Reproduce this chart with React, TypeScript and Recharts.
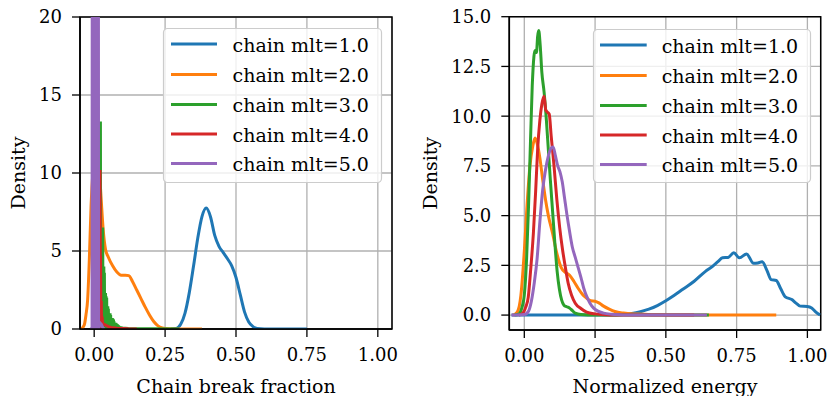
import React from 'react';
import { LineChart, Line, XAxis, YAxis, CartesianGrid, ReferenceArea, Legend } from 'recharts';

const SERIES_NAMES = ['chain mlt=1.0', 'chain mlt=2.0', 'chain mlt=3.0', 'chain mlt=4.0', 'chain mlt=5.0'];
const COLORS = ['#1f77b4', '#ff7f0e', '#2ca02c', '#d62728', '#9467bd'];

const X_TICKS = [0, 0.25, 0.5, 0.75, 1.0];
const LEFT_Y_TICKS = [0, 5, 10, 15, 20];
const RIGHT_Y_TICKS = [0, 2.5, 5, 7.5, 10, 12.5, 15];

// ---- Left panel: chain break fraction densities [x, density] ----
const CB_MLT1: [number, number][] = [
  [0.27, 0], [0.29, 0.04], [0.305, 0.3], [0.32, 1.0], [0.335, 2.3], [0.35, 4.0], [0.365, 5.8],
  [0.38, 7.2], [0.395, 7.75], [0.41, 7.2], [0.425, 6.0], [0.44, 5.3], [0.455, 4.9], [0.47, 4.5],
  [0.485, 4.05], [0.5, 3.3], [0.515, 2.2], [0.53, 1.1], [0.545, 0.45], [0.56, 0.15], [0.575, 0.03],
  [0.6, 0], [0.75, 0],
];
const CB_MLT2: [number, number][] = [
  [-0.045, 0], [-0.035, 0.25], [-0.029, 0.9], [-0.023, 1.9], [-0.017, 4.5], [-0.011, 7.9], [-0.004, 10.2],
  [0.005, 11.5], [0.015, 11.0], [0.024, 8.5], [0.032, 6.3], [0.04, 5.1], [0.05, 4.6], [0.065, 4.05],
  [0.08, 3.65], [0.095, 3.45], [0.11, 3.45], [0.122, 3.42], [0.135, 3.05], [0.15, 2.5], [0.165, 1.95],
  [0.18, 1.4], [0.195, 0.9], [0.21, 0.48], [0.225, 0.2], [0.24, 0.07], [0.26, 0.01], [0.28, 0], [0.38, 0],
];
const CB_MLT3: [number, number][] = [
  [0.015, 0], [0.016, 13.3], [0.017, 0], [0.018, 13.3], [0.019, 0], [0.02, 13.3], [0.021, 0], [0.022, 13.3],
  [0.023, 0], [0.024, 6.5], [0.025, 0], [0.026, 6.5], [0.027, 0], [0.028, 6.5], [0.029, 0], [0.03, 6.5],
  [0.031, 0], [0.032, 4.0], [0.033, 0], [0.034, 4.0], [0.035, 0], [0.036, 3.6], [0.037, 0], [0.038, 2.3],
  [0.039, 0], [0.04, 2.3], [0.041, 0], [0.042, 2.1], [0.043, 0], [0.044, 2.0], [0.045, 0], [0.046, 1.45],
  [0.047, 0], [0.048, 1.45], [0.049, 0], [0.05, 1.3], [0.051, 0], [0.052, 1.0], [0.053, 0], [0.054, 1.0],
  [0.055, 0], [0.056, 1.0], [0.057, 0], [0.058, 0.9], [0.059, 0], [0.06, 0.7], [0.061, 0], [0.062, 0.7],
  [0.063, 0], [0.064, 0.7], [0.065, 0], [0.066, 0.65], [0.067, 0], [0.068, 0.6], [0.069, 0], [0.07, 0.5],
  [0.071, 0], [0.072, 0.4], [0.073, 0], [0.074, 0.4], [0.075, 0], [0.076, 0.4], [0.077, 0], [0.078, 0.35],
  [0.079, 0], [0.08, 0.3], [0.081, 0], [0.082, 0.25], [0.083, 0], [0.084, 0.2], [0.085, 0], [0.087, 0.15],
  [0.09, 0.1], [0.1, 0.06], [0.12, 0.03], [0.15, 0.02], [0.2, 0.01], [0.3, 0],
];
const CB_MLT4: [number, number][] = [
  [0.012, 0], [0.017, 0.3], [0.0185, 10.2], [0.0195, 0], [0.0205, 10.2], [0.0215, 4.6], [0.0225, 4.6],
  [0.0235, 0.3], [0.025, 1.8], [0.026, 0.2], [0.028, 0.8], [0.03, 0.3], [0.035, 0.3], [0.04, 0.25],
  [0.05, 0.15], [0.06, 0.1], [0.08, 0.05], [0.1, 0.03], [0.12, 0.01], [0.15, 0],
];
const CB_MLT5: [number, number][] = [
  [-0.015, 0], [-0.0075, 0], [-0.006, 60], [-0.0045, 0], [-0.003, 60], [-0.0015, 0], [0, 60], [0.0015, 0],
  [0.003, 60], [0.0045, 0], [0.006, 60], [0.0075, 0], [0.009, 60], [0.0105, 0], [0.012, 60], [0.0135, 0],
  [0.014, 60], [0.0155, 0], [0.02, 0.4], [0.025, 0.3], [0.03, 0.1], [0.035, 0],
];

// ---- Right panel: normalized energy densities [x, density] ----
const EN_MLT1: [number, number][] = [
  [-0.045, 0], [0.3, 0], [0.35, 0.03], [0.38, 0.08], [0.41, 0.17], [0.44, 0.3], [0.47, 0.48], [0.5, 0.72],
  [0.53, 1.0], [0.56, 1.3], [0.6, 1.7], [0.64, 2.2], [0.665, 2.45], [0.685, 2.7], [0.7, 2.88], [0.72, 2.9],
  [0.74, 3.13], [0.76, 2.88], [0.785, 3.07], [0.81, 2.6], [0.825, 2.62], [0.84, 2.68], [0.857, 2.25],
  [0.872, 1.78], [0.89, 1.74], [0.905, 1.35], [0.922, 0.92], [0.945, 0.78], [0.96, 0.6], [0.975, 0.45],
  [1.0, 0.43], [1.015, 0.35], [1.03, 0.15], [1.045, 0],
];
const EN_MLT2: [number, number][] = [
  [-0.04, 0], [-0.025, 0.15], [-0.012, 1.0], [0, 3.2], [0.01, 5.6], [0.02, 7.5], [0.03, 8.5], [0.038, 8.9],
  [0.046, 8.6], [0.055, 7.9], [0.065, 6.8], [0.075, 5.8], [0.085, 5.0], [0.1, 4.1], [0.115, 3.1], [0.13, 2.4],
  [0.145, 2.15], [0.16, 2.0], [0.175, 1.7], [0.19, 1.35], [0.205, 1.05], [0.22, 0.85], [0.235, 0.72],
  [0.25, 0.7], [0.265, 0.6], [0.28, 0.45], [0.3, 0.3], [0.32, 0.18], [0.35, 0.1], [0.4, 0.05], [0.45, 0.02],
  [0.5, 0.01], [0.55, 0], [0.89, 0],
];
const EN_MLT3: [number, number][] = [
  [-0.035, 0], [-0.02, 0.05], [-0.008, 0.4], [0.0, 1.0], [0.008, 2.8], [0.015, 5.5], [0.022, 8.8],
  [0.028, 11.5], [0.034, 13.0], [0.038, 13.3], [0.043, 13.2], [0.047, 14.0], [0.051, 14.3], [0.056, 13.6],
  [0.062, 12.2], [0.07, 11.2], [0.078, 9.8], [0.085, 8.3], [0.092, 6.8], [0.1, 5.2], [0.108, 3.6],
  [0.116, 2.2], [0.124, 1.3], [0.132, 0.75], [0.14, 0.5], [0.15, 0.42], [0.16, 0.35], [0.17, 0.22],
  [0.18, 0.1], [0.2, 0.03], [0.25, 0], [0.652, 0],
];
const EN_MLT4: [number, number][] = [
  [-0.02, 0], [-0.005, 0.1], [0.005, 0.4], [0.014, 0.9], [0.022, 2.2], [0.032, 4.1], [0.04, 6.2],
  [0.047, 8.3], [0.055, 9.8], [0.062, 10.6], [0.07, 11.0], [0.076, 10.3], [0.082, 10.2], [0.088, 10.1],
  [0.095, 9.0], [0.105, 7.5], [0.115, 5.8], [0.125, 4.4], [0.135, 3.3], [0.145, 2.4], [0.155, 1.6],
  [0.167, 1.0], [0.18, 0.6], [0.2, 0.33], [0.22, 0.15], [0.25, 0.06], [0.3, 0.01], [0.35, 0], [0.6, 0],
];
const EN_MLT5: [number, number][] = [
  [-0.045, 0], [0, 0.03], [0.015, 0.2], [0.025, 0.7], [0.035, 1.6], [0.045, 2.8], [0.055, 4.7], [0.065, 6.3],
  [0.075, 7.3], [0.085, 8.0], [0.095, 8.4], [0.102, 8.45], [0.11, 8.0], [0.118, 7.5], [0.126, 7.2],
  [0.134, 6.7], [0.142, 5.9], [0.15, 5.1], [0.16, 4.2], [0.17, 3.4], [0.18, 2.9], [0.19, 2.4], [0.2, 1.9],
  [0.21, 1.35], [0.22, 0.95], [0.232, 0.6], [0.245, 0.35], [0.26, 0.2], [0.28, 0.1], [0.31, 0.04],
  [0.35, 0.01], [0.4, 0], [0.645, 0],
];

const LEFT_SERIES = [CB_MLT1, CB_MLT2, CB_MLT3, CB_MLT4, CB_MLT5];
const LEFT_CURVE = ['monotone', 'monotone', 'linear', 'linear', 'linear'];
const RIGHT_SERIES = [EN_MLT1, EN_MLT2, EN_MLT3, EN_MLT4, EN_MLT5];

const FONT = '"DejaVu Serif", serif';
const toPts = (arr: [number, number][]) => arr.map(([x, y]) => ({ x, y }));

function LegendBox({ w, h, sx0, sx1, tx }: { w: number; h: number; sx0: number; sx1: number; tx: number }) {
  const rows = [16, 46.5, 76.5, 106, 135.5];
  return (
    <svg width={w} height={h} style={{ display: 'block', overflow: 'visible' }}>
      <rect x={0.5} y={0.5} width={w - 1} height={h - 1} rx={4} ry={4} fill="#ffffff" fillOpacity={0.8} stroke="#cccccc" strokeWidth={1.2} />
      {SERIES_NAMES.map((name, i) => (
        <g key={name}>
          <line x1={sx0} x2={sx1} y1={rows[i]} y2={rows[i]} stroke={COLORS[i]} strokeWidth={3} />
          <text x={tx} y={rows[i] + 7.5} fontFamily={FONT} fontSize={19} fill="#000">{name}</text>
        </g>
      ))}
    </svg>
  );
}

function makeYLabel(cx: number, text: string) {
  return (props: any) => {
    const vb = props.viewBox || { y: 0, height: 0 };
    const cy = vb.y + vb.height / 2;
    return (
      <text x={cx} y={cy} transform={`rotate(-90 ${cx} ${cy})`} textAnchor="middle" dominantBaseline="central"
        fontFamily={FONT} fontSize={19} fill="#000">{text}</text>
    );
  };
}

function makeXLabel(baseline: number, text: string) {
  return (props: any) => {
    const vb = props.viewBox || { x: 0, width: 0 };
    const cx = vb.x + vb.width / 2;
    return (
      <text x={cx} y={baseline} textAnchor="middle" fontFamily={FONT} fontSize={19} fill="#000">{text}</text>
    );
  };
}

const tickStyle = { fontFamily: FONT, fontSize: 18, fill: '#000' };

function Panel(props: {
  width: number; margin: any; series: [number, number][][]; curves: string[];
  yDomain: [number, number]; yTicks: number[]; yFmt: (v: number) => string;
  xDomain: [number, number]; xLabel: string; yLabelX: number; legend: any;
}) {
  const { width, margin, series, curves, yDomain, yTicks, yFmt, xDomain, xLabel, yLabelX, legend } = props;
  return (
    <LineChart width={width} height={396} margin={margin} style={{ fontFamily: FONT }}>
      <CartesianGrid stroke="#b0b0b0" strokeWidth={1.3} />
      <XAxis type="number" dataKey="x" domain={xDomain} ticks={X_TICKS} allowDataOverflow
        tickFormatter={(v: number) => v.toFixed(2)} tick={tickStyle} tickSize={8} tickMargin={11}
        height={30} stroke="#000" strokeWidth={1.5} tickLine={{ stroke: '#000', strokeWidth: 1.3 }}
        label={makeXLabel(393, xLabel)} />
      <YAxis type="number" domain={yDomain} ticks={yTicks} allowDataOverflow
        tickFormatter={yFmt} tick={tickStyle} tickSize={8} tickMargin={10} width={60}
        stroke="#000" strokeWidth={1.5} tickLine={{ stroke: '#000', strokeWidth: 1.3 }}
        label={makeYLabel(yLabelX, 'Density')} />
      {series.map((s, i) => (
        <Line key={SERIES_NAMES[i]} data={toPts(s)} dataKey="y" name={SERIES_NAMES[i]} type={curves[i] as any}
          stroke={COLORS[i]} strokeWidth={3} dot={false} activeDot={false} isAnimationActive={false} />
      ))}
      <ReferenceArea x1={xDomain[0]} x2={xDomain[1]} y1={yDomain[0]} y2={yDomain[1]} fill="none"
        stroke="#000" strokeWidth={1.5} strokeOpacity={1} fillOpacity={0} />
      <Legend layout="vertical" align="center" verticalAlign="middle"
        wrapperStyle={{ top: legend.top, left: legend.left, width: legend.w, height: legend.h, margin: 0 }}
        content={() => <LegendBox w={legend.w} h={legend.h} sx0={legend.sx0} sx1={legend.sx1} tx={legend.tx} />} />
    </LineChart>
  );
}

export default function App() {
  return (
    <div style={{ position: 'absolute', left: 0, top: 0, width: 829, height: 396, background: '#fff' }}>
      <div style={{ position: 'absolute', left: 0, top: 0 }}>
        <Panel width={415} margin={{ top: 17, right: 23, bottom: 37, left: 20 }}
          series={LEFT_SERIES} curves={LEFT_CURVE}
          yDomain={[0, 20]} yTicks={LEFT_Y_TICKS} yFmt={(v) => String(v)}
          xDomain={[-0.05, 1.05]} xLabel="Chain break fraction" yLabelX={18}
          legend={{ top: 28, left: 163, w: 219, h: 155, sx0: 8, sx1: 54, tx: 69.5 }} />
      </div>
      <div style={{ position: 'absolute', left: 415, top: 0 }}>
        <Panel width={414} margin={{ top: 16.7, right: 8.3, bottom: 36, left: 34.3 }}
          series={RIGHT_SERIES} curves={['monotone', 'monotone', 'monotone', 'monotone', 'monotone']}
          yDomain={[-0.75, 15]} yTicks={RIGHT_Y_TICKS} yFmt={(v) => v.toFixed(1)}
          xDomain={[-0.053, 1.047]} xLabel="Normalized energy" yLabelX={15}
          legend={{ top: 29, left: 178, w: 218, h: 154, sx0: 7, sx1: 53.7, tx: 68.7 }} />
      </div>
    </div>
  );
}
